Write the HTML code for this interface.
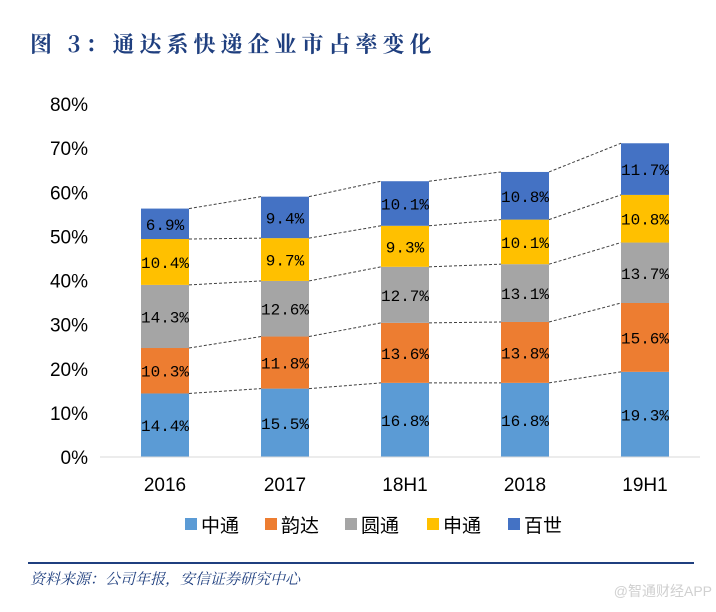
<!DOCTYPE html>
<html><head><meta charset="utf-8">
<style>
body{margin:0;background:#fff;width:716px;height:607px;overflow:hidden;font-family:"Liberation Sans","Noto Sans CJK SC",sans-serif;}
</style></head>
<body>
<svg id="chart" width="716" height="607" xmlns="http://www.w3.org/2000/svg">
<text x="30" y="52" font-size="22" font-weight="bold" fill="#1f3f7f" letter-spacing="5" font-family="'Noto Serif CJK SC','Noto Sans CJK SC',sans-serif">图 3：通达系快递企业市占率变化</text>
<g id="yaxis"></g>
<g id="dashes"></g>
<g id="bars"></g>
<g id="xaxis"></g>
<g id="legend"></g>
<line x1="28" y1="563" x2="694" y2="563" stroke="#1f3f7f" stroke-width="2"/>
<text x="30" y="584" font-size="15" font-style="italic" fill="#1f3f7f" font-family="'Noto Serif CJK SC','Noto Sans CJK SC',serif">资料来源：公司年报，安信证券研究中心</text>
<text x="712" y="596" text-anchor="end" font-size="14" fill="#d0d0d0" font-family="'Liberation Sans','Noto Sans CJK SC',sans-serif">@智通财经APP</text>
</svg>
<script>
const categories=["2016","2017","18H1","2018","19H1"];
const seriesNames=["中通","韵达","圆通","申通","百世"];
const zto=[14.4,15.5,16.8,16.8,19.3];
const yunda=[10.3,11.8,13.6,13.8,15.6];
const yto=[14.3,12.6,12.7,13.1,13.7];
const sto=[10.4,9.7,9.3,10.1,10.8];
const best=[6.9,9.4,10.1,10.8,11.7];
const yTicks=[0,10,20,30,40,50,60,70,80];
const colors=["#5b9bd5","#ed7d31","#a5a5a5","#ffc000","#4472c4"];
const series=[zto,yunda,yto,sto,best];
const NS="http://www.w3.org/2000/svg";
const y0=457,yTop=104,x0=100,x1=700,bw=48;
function yScale(v){return y0-(v/80)*(y0-yTop);}
function xScale(i){return x0+(x1-x0)/categories.length*(i+0.5)+5;}
function mk(tag,attrs,parent,text){const e=document.createElementNS(NS,tag);for(const k in attrs)e.setAttribute(k,attrs[k]);if(text!==undefined)e.textContent=text;document.getElementById(parent).appendChild(e);return e;}
yTicks.forEach(t=>{
 const e=mk("text",{x:88,y:yScale(t)+7,"text-anchor":"end","font-size":"19",fill:"#000"},"yaxis",t+"%");
 
 
});
const ax=mk("line",{x1:x0,y1:y0,x2:x1,y2:y0,stroke:"#d9d9d9","stroke-width":1},"xaxis");


categories.forEach((c,i)=>{
 const cx=xScale(i);let acc=0;
 series.forEach((s,k)=>{
  const v=s[i];
  const r=mk("rect",{x:cx-bw/2,y:yScale(acc+v),width:bw,height:yScale(acc)-yScale(acc+v),fill:colors[k]},"bars");
  
  
  const t=mk("text",{x:cx,y:(yScale(acc)+yScale(acc+v))/2+6,"text-anchor":"middle","font-size":"16",fill:"#000","font-family":"'Liberation Mono',monospace"},"bars",v.toFixed(1)+"%");
  
  
  acc+=v;
  if(i<categories.length-1){
   let acc2=0;for(let m=0;m<=k;m++)acc2+=series[m][i+1];
   const d=mk("line",{x1:cx+bw/2,y1:yScale(acc),x2:xScale(i+1)-bw/2,y2:yScale(acc2),stroke:"#404040","stroke-width":1,"stroke-dasharray":"3,2"},"dashes");
   
   
  }
 });
 const xl=mk("text",{x:cx,y:491,"text-anchor":"middle","font-size":"19",fill:"#000"},"xaxis",c);
 
 
});
const lx=[185,265,345,427,508];
seriesNames.forEach((n,k)=>{
 const r=mk("rect",{x:lx[k],y:518,width:12,height:12,fill:colors[k]},"legend");
 
 
 const t=mk("text",{x:lx[k]+16,y:532,"font-size":"19",fill:"#000","font-family":"'Noto Sans CJK SC',sans-serif"},"legend",n);
 
 
});
</script>
</body></html>
